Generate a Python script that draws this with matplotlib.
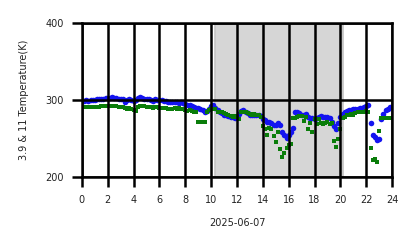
import numpy as np
import matplotlib
matplotlib.use("Agg")
import matplotlib.pyplot as plt

hours = np.arange(144) / 6.0

blue_k = [
    299, 299, 300, 299, 300, 300,
    300, 301, 301, 302, 302, 303,
    303, 303, 304, 303, 303, 302,
    302, 302, 298, 300, 301, 300,
    299, 300, 303, 304, 303, 302,
    302, 301, 300, 299, 301, 300,
    300, 300, 299, 299, 298, 298,
    297, 297, 297, 296, 297, 296,
    295, 294, 293, 292, 291, 290,
    290, 289, 287, 285, 286, 289,
    292, 293, 290, 287, 285, 283,
    281, 280, 279, 278, 278, 277,
    278, 282, 286, 287, 285, 283,
    281, 280, 280, 281, 280, 279,
    276, 274, 272, 271, 270, 268,
    267, 270, 268, 259, 254, 251,
    254, 258, 264, 284, 285, 283,
    281, 280, 282, 278, 277, 277,
    276, 277, 278, 279, 278, 278,
    278, 277, 272, 266, 262, 270,
    278, 282, 285, 286, 287, 287,
    288, 288, 289, 290, 290, 291,
    292, 294, 270, 255, 252, 248,
    250, 275, 282, 287, 289, 291,
]

green_k = [
    291, 291, 291, 291, 291, 291,
    291, 291, 291, 292, 292, 292,
    292, 292, 292, 292, 292, 291,
    291, 291, 290, 289, 290, 288,
    287, 286, 291, 292, 292, 292,
    291, 291, 291, 290, 291, 291,
    290, 290, 290, 290, 289, 289,
    289, 290, 289, 290, 289, 288,
    287, 286, 287, 286, 285, 284,
    272, 271, 271, 271, 285, 287,
    288, 289, 288, 285, 285, 284,
    283, 282, 281, 279, 278, 279,
    278, 276, 284, 285, 284, 283,
    282, 281, 282, 281, 280, 278,
    266, 263, 255, 264, 262, 253,
    246, 259, 236, 226, 231, 238,
    242, 243, 277, 277, 278, 279,
    279, 273, 278, 263, 270, 259,
    276, 269, 276, 270, 269, 270,
    271, 269, 270, 247, 239, 249,
    263, 277, 278, 280, 281, 282,
    281, 283, 284, 284, 285, 285,
    286, 285, 238, 222, 224, 219,
    260, 277, 277, 277, 277, 277,
]

shade_span = (10.3, 20.2)
x_ticks = list(range(0, 25, 2))
y_ticks = [200, 300, 400]

fig = plt.figure(figsize=(4.18, 2.48), dpi=100)
ax = fig.add_axes([0.196, 0.286, 0.742, 0.621])

ax.axvspan(shade_span[0], shade_span[1], facecolor="#d6d6d6",
           edgecolor="#c4c4c4", linewidth=1.2, zorder=0)
ax.plot(hours, blue_k, linestyle="none", marker="o", markersize=4.0,
        color="#1414f0", markeredgewidth=0, zorder=2)
ax.plot(hours, green_k, linestyle="none", marker="s", markersize=3.3,
        color="#0a7d0a", markeredgewidth=0, zorder=2.2)

ax.set_xlim(0, 24)
ax.set_ylim(200, 400)
ax.set_xticks(x_ticks)
ax.set_yticks(y_ticks)
ax.grid(True, color="black", linewidth=1.8)
ax.set_axisbelow(False)
for s in ax.spines.values():
    s.set_linewidth(1.8)
    s.set_color("black")
ax.tick_params(axis="both", length=7, width=1.8, labelsize=7, pad=6,
               colors="black")
ax.tick_params(labelcolor="#222222")
ax.set_xlabel("2025-06-07", fontsize=7, labelpad=9, color="#222222")
ax.set_ylabel("3.9 & 11 Temperature(K)", fontsize=7, labelpad=12,
              color="#222222")

fig.savefig("out.png", dpi=100)
